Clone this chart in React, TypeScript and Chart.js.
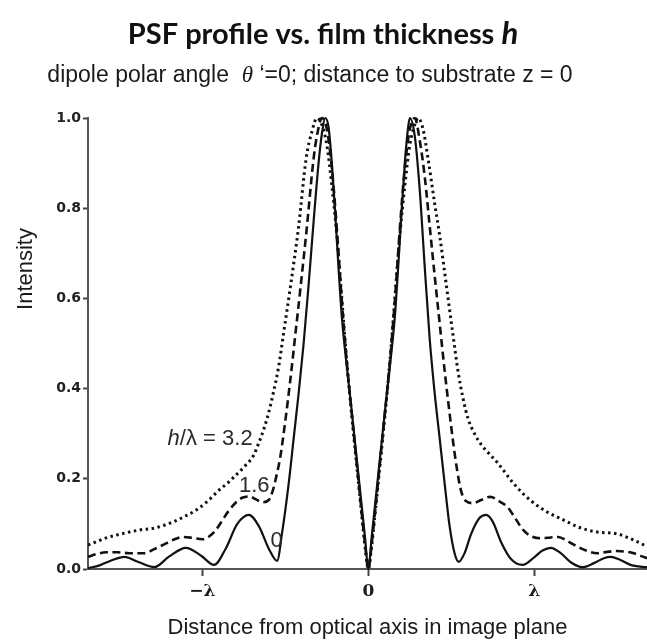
import { useEffect, useRef } from 'react';
import { Chart, registerables } from 'chart.js';

Chart.register(...registerables);

// ---- data (x in units of wavelength λ, y = normalised intensity) ----
const solidX = [-1.69, -1.62, -1.55, -1.47, -1.39, -1.29, -1.2, -1.1, -1.01, -0.93, -0.86, -0.79, -0.72, -0.66, -0.6, -0.55, -0.52, -0.48, -0.45, -0.42, -0.39, -0.36, -0.33, -0.3, -0.28, -0.26, -0.24, -0.22, -0.2, -0.18, -0.16, -0.13, -0.1, -0.07, -0.04, -0.02, 0, 0.02, 0.04, 0.07, 0.1, 0.13, 0.16, 0.18, 0.2, 0.22, 0.24, 0.25, 0.28, 0.31, 0.34, 0.37, 0.4, 0.43, 0.46, 0.49, 0.52, 0.545, 0.58, 0.62, 0.67, 0.71, 0.75, 0.8, 0.86, 0.93, 1.0, 1.05, 1.1, 1.16, 1.22, 1.29, 1.36, 1.42, 1.46, 1.52, 1.59, 1.68];
const solidY = [0.002, 0.008, 0.019, 0.027, 0.016, 0.004, 0.028, 0.047, 0.03, 0.009, 0.045, 0.1, 0.12, 0.095, 0.045, 0.018, 0.08, 0.19, 0.29, 0.39, 0.5, 0.63, 0.77, 0.9, 0.965, 1.0, 0.98, 0.9, 0.79, 0.67, 0.56, 0.45, 0.35, 0.245, 0.14, 0.07, 0, 0.07, 0.14, 0.245, 0.35, 0.45, 0.56, 0.67, 0.79, 0.9, 0.98, 1.0, 0.96, 0.84, 0.67, 0.51, 0.39, 0.29, 0.19, 0.095, 0.035, 0.016, 0.035, 0.078, 0.113, 0.12, 0.105, 0.06, 0.022, 0.009, 0.026, 0.041, 0.047, 0.035, 0.015, 0.004, 0.013, 0.024, 0.027, 0.02, 0.008, 0.004];

const dashedX = [-1.69, -1.63, -1.58, -1.51, -1.44, -1.35, -1.29, -1.24, -1.18, -1.12, -1.06, -1.0, -0.96, -0.92, -0.88, -0.84, -0.8, -0.76, -0.72, -0.68, -0.64, -0.6, -0.575, -0.555, -0.53, -0.5, -0.47, -0.44, -0.41, -0.37, -0.33, -0.31, -0.28, -0.25, -0.22, -0.19, -0.16, -0.13, -0.1, -0.07, -0.04, -0.02, 0, 0.02, 0.04, 0.07, 0.1, 0.13, 0.16, 0.19, 0.22, 0.25, 0.28, 0.31, 0.34, 0.37, 0.4, 0.43, 0.46, 0.49, 0.51, 0.535, 0.56, 0.59, 0.63, 0.68, 0.735, 0.79, 0.84, 0.89, 0.935, 0.98, 1.04, 1.1, 1.145, 1.2, 1.26, 1.32, 1.38, 1.44, 1.5, 1.56, 1.6, 1.65, 1.68];
const dashedY = [0.027, 0.034, 0.037, 0.037, 0.035, 0.035, 0.044, 0.053, 0.064, 0.071, 0.069, 0.066, 0.072, 0.086, 0.108, 0.13, 0.147, 0.158, 0.161, 0.155, 0.148, 0.153, 0.175, 0.205, 0.25, 0.33, 0.42, 0.52, 0.62, 0.76, 0.91, 0.96, 1.0, 0.975, 0.89, 0.755, 0.595, 0.46, 0.345, 0.235, 0.125, 0.055, 0, 0.055, 0.125, 0.235, 0.345, 0.46, 0.595, 0.755, 0.89, 0.975, 1.0, 0.95, 0.87, 0.76, 0.65, 0.545, 0.44, 0.345, 0.285, 0.22, 0.172, 0.15, 0.146, 0.153, 0.16, 0.15, 0.137, 0.11, 0.086, 0.073, 0.068, 0.07, 0.071, 0.062, 0.05, 0.04, 0.035, 0.038, 0.04, 0.038, 0.035, 0.028, 0.024];

const dottedX = [-1.69, -1.63, -1.58, -1.51, -1.44, -1.37, -1.3, -1.24, -1.18, -1.11, -1.04, -0.97, -0.9, -0.85, -0.81, -0.75, -0.69, -0.66, -0.63, -0.6, -0.57, -0.54, -0.51, -0.47, -0.42, -0.375, -0.34, -0.31, -0.28, -0.25, -0.22, -0.19, -0.16, -0.13, -0.1, -0.07, -0.04, -0.02, 0, 0.02, 0.04, 0.07, 0.1, 0.13, 0.16, 0.19, 0.22, 0.25, 0.28, 0.3, 0.33, 0.36, 0.4, 0.43, 0.47, 0.51, 0.54, 0.57, 0.6, 0.64, 0.68, 0.73, 0.78, 0.875, 0.975, 1.08, 1.175, 1.28, 1.38, 1.5, 1.6, 1.68];
const dottedY = [0.053, 0.062, 0.069, 0.076, 0.082, 0.087, 0.09, 0.096, 0.104, 0.116, 0.13, 0.15, 0.175, 0.19, 0.204, 0.226, 0.253, 0.28, 0.31, 0.348, 0.395, 0.45, 0.525, 0.625, 0.76, 0.91, 0.97, 1.0, 0.985, 0.94, 0.85, 0.74, 0.6, 0.46, 0.34, 0.23, 0.12, 0.05, 0, 0.05, 0.12, 0.23, 0.34, 0.46, 0.6, 0.74, 0.85, 0.94, 0.985, 1.0, 0.975, 0.91, 0.81, 0.74, 0.63, 0.52, 0.44, 0.38, 0.335, 0.3, 0.276, 0.255, 0.235, 0.19, 0.153, 0.126, 0.109, 0.091, 0.082, 0.078, 0.064, 0.05];

const seriesNames = ['h/λ = 0', 'h/λ = 1.6', 'h/λ = 3.2'];
const yTickValues = [0, 0.2, 0.4, 0.6, 0.8, 1.0];
const xTickValues = [-1, 0, 1];
const xTickLabels = ['\u2212\u03bb', '0', '\u03bb'];

// ---- text ----
const TITLE_MAIN = 'PSF profile vs. film thickness ';
const TITLE_VAR = 'h';
const SUB_A = 'dipole polar angle  ';
const SUB_THETA = '\u03b8';
const SUB_B = ' \u2018=0; distance to substrate z = 0';
const X_TITLE = 'Distance from optical axis in image plane';
const Y_TITLE = 'Intensity';
const LABEL_H = 'h';
const LABEL_32 = '/\u03bb = 3.2';
const LABEL_16 = '1.6';
const LABEL_0 = '0';

type Seg = { t: string; f: string };

function drawSegs(ctx: CanvasRenderingContext2D, segs: Seg[], x: number, y: number, align: 'left' | 'center') {
  let w = 0;
  for (const s of segs) {
    ctx.font = s.f;
    w += ctx.measureText(s.t).width;
  }
  let cx = align === 'center' ? x - w / 2 : x;
  for (const s of segs) {
    ctx.font = s.f;
    ctx.fillText(s.t, cx, y);
    cx += ctx.measureText(s.t).width;
  }
}

const SANS = '"Liberation Sans", Arial, sans-serif';

const textPlugin = {
  id: 'psfTexts',
  afterDraw(chart: any) {
    const ctx: CanvasRenderingContext2D = chart.ctx;
    const ca = chart.chartArea;
    const xs = chart.scales.x;
    const ys = chart.scales.y;
    ctx.save();
    ctx.textAlign = 'left';
    ctx.textBaseline = 'alphabetic';
    ctx.fillStyle = '#111';
    drawSegs(ctx, [
      { t: TITLE_MAIN, f: 'bold 29px Lato' },
      { t: TITLE_VAR, f: 'italic bold 31px Lato' },
    ], 323, 44, 'center');
    ctx.fillStyle = '#1a1a1a';
    drawSegs(ctx, [
      { t: SUB_A, f: `23px ${SANS}` },
      { t: SUB_THETA, f: 'italic 23px "Liberation Serif"' },
      { t: SUB_B, f: `23px ${SANS}` },
    ], 310, 82, 'center');
    drawSegs(ctx, [{ t: X_TITLE, f: `22px ${SANS}` }], (ca.left + ca.right) / 2, 634, 'center');
    ctx.save();
    ctx.translate(32, 269);
    ctx.rotate(-Math.PI / 2);
    drawSegs(ctx, [{ t: Y_TITLE, f: `22px ${SANS}` }], 0, 0, 'center');
    ctx.restore();
    // curve labels
    ctx.fillStyle = '#2a2a2a';
    drawSegs(ctx, [
      { t: LABEL_H, f: `italic 22px ${SANS}` },
      { t: LABEL_32, f: `22px ${SANS}` },
    ], xs.getPixelForValue(-1.21), ys.getPixelForValue(0.275), 'left');
    drawSegs(ctx, [{ t: LABEL_16, f: `22px ${SANS}` }], xs.getPixelForValue(-0.78), ys.getPixelForValue(0.171), 'left');
    drawSegs(ctx, [{ t: LABEL_0, f: `22px ${SANS}` }], xs.getPixelForValue(-0.59), ys.getPixelForValue(0.049), 'left');
    ctx.restore();
  },
};

function pts(xa: number[], ya: number[]) {
  return xa.map((x, i) => ({ x, y: ya[i] }));
}

export default function App() {
  const ref = useRef<HTMLCanvasElement>(null);
  useEffect(() => {
    if (!ref.current) return;
    const chart = new Chart(ref.current, {
      type: 'line',
      data: {
        datasets: [
          {
            label: seriesNames[2],
            data: pts(dottedX, dottedY),
            borderColor: '#111',
            borderWidth: 3,
            borderDash: [2.5, 3.5],
            pointRadius: 0,
            cubicInterpolationMode: 'monotone',
            clip: 10,
          } as any,
          {
            label: seriesNames[1],
            data: pts(dashedX, dashedY),
            borderColor: '#111',
            borderWidth: 2.6,
            borderDash: [8, 4.5],
            pointRadius: 0,
            cubicInterpolationMode: 'monotone',
            clip: 10,
          } as any,
          {
            label: seriesNames[0],
            data: pts(solidX, solidY),
            borderColor: '#111',
            borderWidth: 2.2,
            pointRadius: 0,
            cubicInterpolationMode: 'monotone',
            clip: 10,
          } as any,
        ],
      },
      options: {
        responsive: false,
        animation: false,
        layout: { padding: { top: 118, left: 0, right: 0, bottom: 0 } },
        plugins: { legend: { display: false }, title: { display: false }, tooltip: { enabled: false } },
        scales: {
          x: {
            type: 'linear',
            min: -1.69,
            max: 1.68,
            afterFit: (s: any) => { s.height = 75; },
            afterBuildTicks: (s: any) => { s.ticks = xTickValues.map((v) => ({ value: v })); },
            ticks: {
              autoSkip: false,
              maxRotation: 0,
              padding: 5,
              color: '#1a1a1a',
              font: { family: '"DejaVu Serif", serif', weight: 'bold', size: 17 },
              callback: (v: any) => {
                const i = xTickValues.indexOf(Number(v));
                return i >= 0 ? xTickLabels[i] : '';
              },
            },
            grid: { drawOnChartArea: false, tickLength: 7, tickColor: '#444', tickWidth: 2 },
            border: { color: '#555', width: 2 },
          },
          y: {
            type: 'linear',
            min: 0,
            max: 1,
            afterFit: (s: any) => { s.width = 88; },
            afterBuildTicks: (s: any) => { s.ticks = yTickValues.map((v) => ({ value: v })); },
            ticks: {
              padding: 2,
              color: '#222',
              font: { family: '"DejaVu Sans", sans-serif', weight: 'bold', size: 14 },
              callback: (v: any) => Number(v).toFixed(1),
            },
            grid: { drawOnChartArea: false, tickLength: 5, tickColor: '#444', tickWidth: 2 },
            border: { color: '#555', width: 2 },
          },
        },
      } as any,
      plugins: [textPlugin],
    });
    return () => chart.destroy();
  }, []);
  return (
    <div style={{ position: 'absolute', left: 0, top: 0, width: 647, height: 644, background: '#fff' }}>
      <canvas ref={ref} width={647} height={644} />
    </div>
  );
}
